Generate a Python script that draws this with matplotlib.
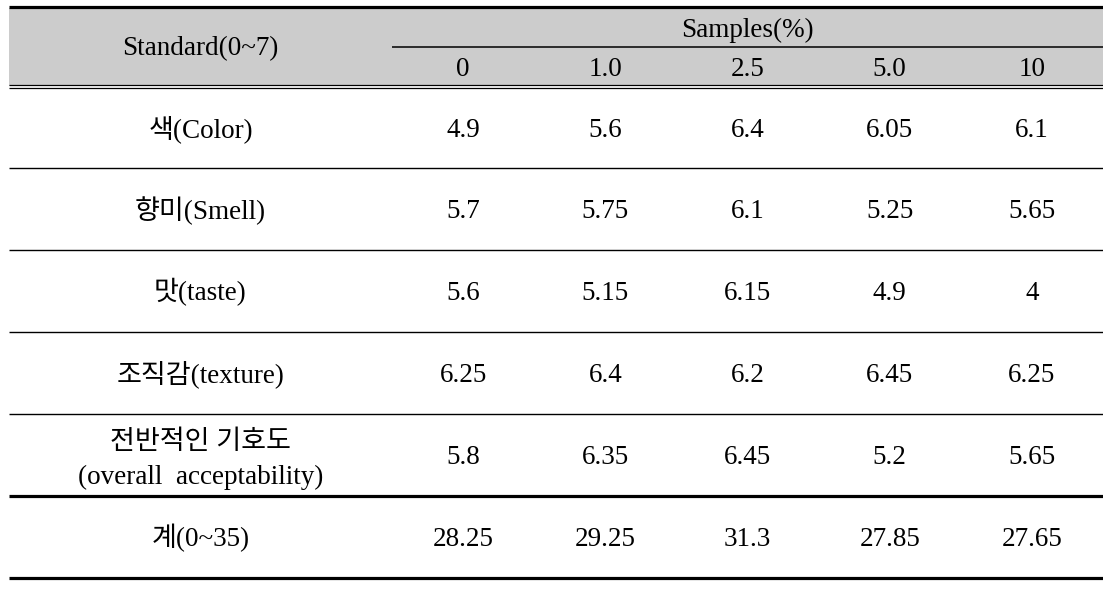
import matplotlib
matplotlib.use("Agg")
import matplotlib.pyplot as plt
from matplotlib.patches import Rectangle

# ---- data ----
header_label = "Standard(0~7)"
group_label = "Samples(%)"
sample_levels = ["0", "1.0", "2.5", "5.0", "10"]
row_labels = ["색(Color)", "향미(Smell)", "맛(taste)", "조직감(texture)",
              "전반적인 기호도\n(overall  acceptability)", "계(0~35)"]
color_vals = ["4.9", "5.6", "6.4", "6.05", "6.1"]
smell_vals = ["5.7", "5.75", "6.1", "5.25", "5.65"]
taste_vals = ["5.6", "5.15", "6.15", "4.9", "4"]
texture_vals = ["6.25", "6.4", "6.2", "6.45", "6.25"]
overall_vals = ["5.8", "6.35", "6.45", "5.2", "5.65"]
total_vals = ["28.25", "29.25", "31.3", "27.85", "27.65"]
table_rows = [color_vals, smell_vals, taste_vals, texture_vals, overall_vals, total_vals]

# ---- layout (pixels) ----
W, H = 1103, 594
left, right = 9, 1103
label_w = 392 - left
top_line = 6.5
head_top, head_mid, head_bot = 8, 47, 86
body_top = 87.6
first_line = 168.3
row_h = 82.0
fam = ["Liberation Serif", "Noto Sans CJK KR"]
fs = 19.5
grey = "#cccccc"

fig = plt.figure(figsize=(W / 100, H / 100), dpi=100)
ax = fig.add_axes([0, 0, 1, 1])
ax.set_xlim(0, W)
ax.set_ylim(H, 0)
ax.axis("off")

# header fill
ax.add_patch(Rectangle((left, head_top), right - left, head_bot - head_top,
                       facecolor=grey, edgecolor="none", zorder=0))
# top thick line
ax.plot([left, right], [top_line, top_line], color="black", lw=2.3, solid_capstyle="butt")
# samples underline
x0 = left + label_w
ax.plot([x0, right], [head_mid, head_mid], color="black", lw=1.1, solid_capstyle="butt")
# double line below header
for yy in (85.2, 87.6):
    ax.plot([left, right], [yy, yy], color="black", lw=0.9, solid_capstyle="butt")

n = len(sample_levels)
col_w = (right - x0) / n
col_centers = [x0 + col_w * (i + 0.5) for i in range(n)]
label_cx = left + label_w / 2

# header text
ax.text(label_cx, (head_top + head_bot) / 2 + 1.5, header_label, ha="center", va="center",
        family=fam, fontsize=fs)
ax.text((x0 + right) / 2, (head_top + head_mid) / 2 + 2.5, group_label, ha="center", va="center",
        family=fam, fontsize=fs)
for cx, lab in zip(col_centers, sample_levels):
    ax.text(cx, (head_mid + head_bot) / 2 + 2.5, lab, ha="center", va="center",
            family=fam, fontsize=fs)

# body
bounds = [body_top] + [first_line + k * row_h for k in range(len(row_labels))]
for r, (lab, vals) in enumerate(zip(row_labels, table_rows)):
    y0, y1 = bounds[r], bounds[r + 1]
    yc = (y0 + y1) / 2 + 1
    if "\n" in lab:
        l1, l2 = lab.split("\n")
        ax.text(label_cx, yc - 14, l1, ha="center", va="center", family=fam, fontsize=fs)
        ax.text(label_cx, yc + 21, l2, ha="center", va="center", family=fam, fontsize=fs)
    else:
        ax.text(label_cx, yc, lab, ha="center", va="center", family=fam, fontsize=fs)
    for cx, v in zip(col_centers, vals):
        ax.text(cx, yc + 1.5, v, ha="center", va="center", family=fam, fontsize=fs)
    thick = r >= len(row_labels) - 2
    ax.plot([left, right], [y1, y1], color="black", lw=2.3 if thick else 1.0,
            solid_capstyle="butt")

fig.savefig("out.png", dpi=100, facecolor="white")
